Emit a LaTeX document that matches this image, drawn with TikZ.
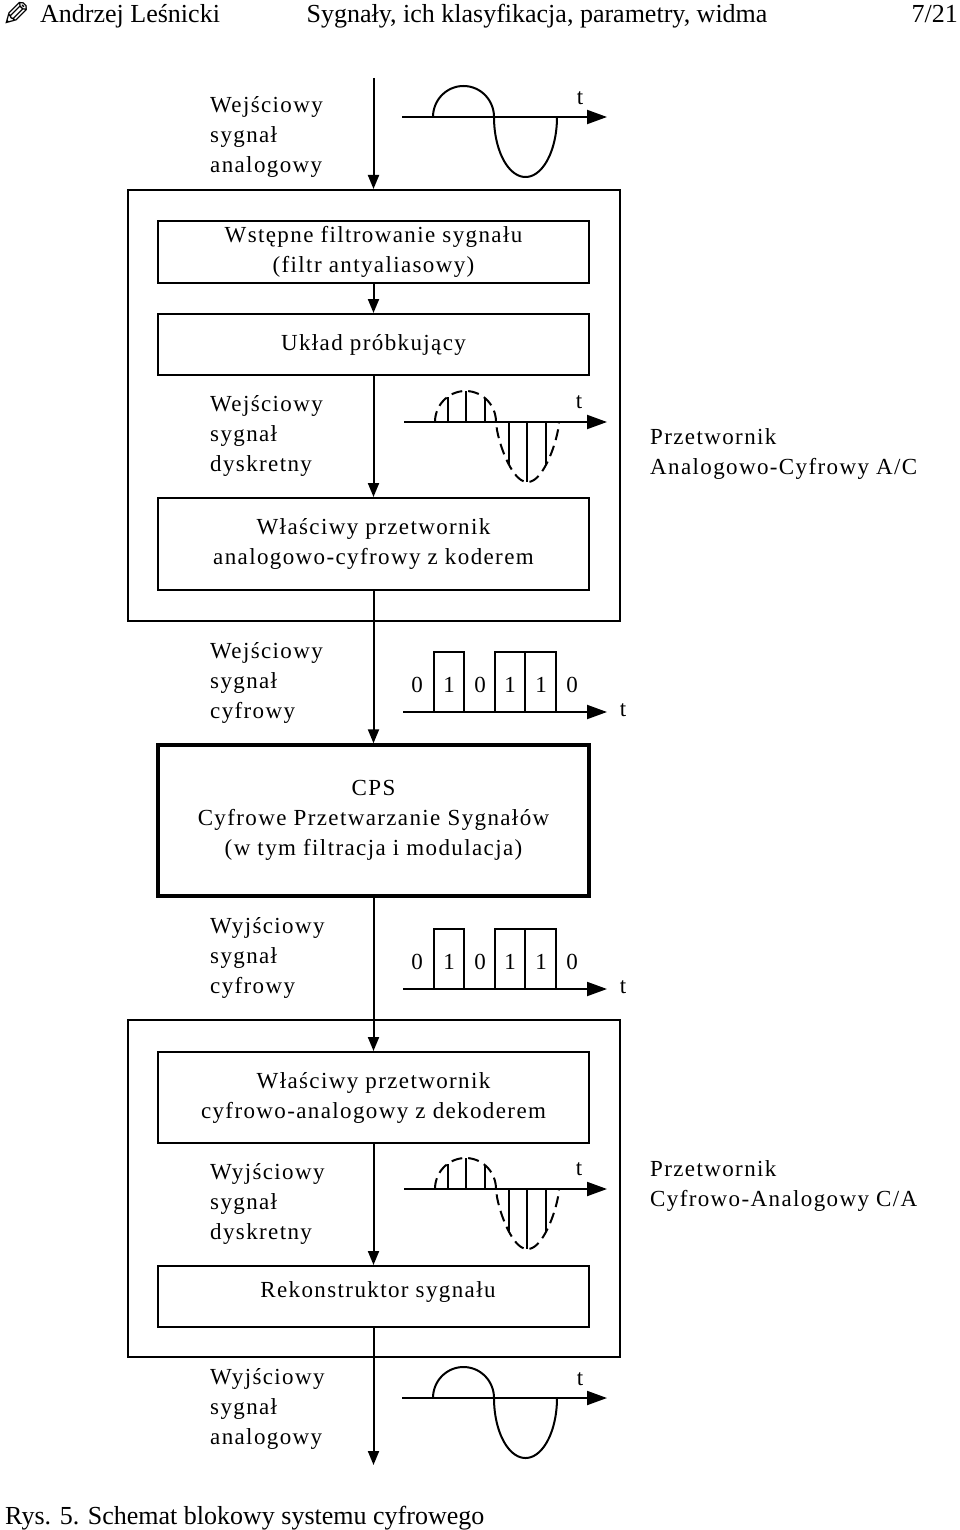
\documentclass[tikz,border=0pt]{standalone}
\usepackage{fontspec}
\setmainfont{Liberation Serif}
\newfontfamily\bodyfont[LetterSpace=6]{Liberation Serif}
\newfontfamily\symfont{DejaVu Sans}
\usetikzlibrary{arrows.meta}
\tikzset{
  ln/.style={line width=2pt},
  arr/.style={line width=2pt, -{Triangle[width=11pt,length=14pt]}},
  axarr/.style={line width=2pt, -{Triangle[width=14pt,length=20pt]}},
  dsh/.style={line width=2pt, dash pattern=on 11pt off 6pt},
  body/.style={font=\bodyfont\fontsize{23}{30}\selectfont, inner sep=0pt},
  lbl/.style={body, anchor=west, align=left},
  boxst/.style={body, draw, line width=2pt, minimum width=431pt, align=center},
  outerbox/.style={draw, line width=2pt, inner sep=0pt, minimum width=492pt},
  cpsbox/.style={boxst, line width=3.4pt},
  tlab/.style={font=\fontsize{23}{26}\selectfont, inner sep=0pt},
  hdr/.style={font=\fontsize{26}{30}\selectfont, inner sep=0pt},
  anawave/.pic={
    \draw[axarr] (-31,0) -- (174,0);
    \draw[ln] plot[variable=\t,domain=180:0,samples=61] ({30.5*(1+cos(\t))},{-31*sin(\t)})
      -- plot[variable=\t,domain=180:0,samples=61] ({61+31.5*(1+cos(\t))},{60*sin(\t)});
    \node[tlab] (-tl) at (147,-19) {t};
  },
  diswave/.pic={
    \draw[axarr] (-31,0) -- (172,0);
    \draw[dsh] plot[variable=\t,domain=180:0,samples=61] ({30.5*(1+cos(\t))},{-31*sin(\t)})
      -- plot[variable=\t,domain=0:180,samples=61] ({61+63*\t/180},{60*pow(max(sin(\t),0.0001),0.67)});
    \foreach \o in {13,31,50}{
      \pgfmathsetmacro\hh{31*sqrt(max(1-(\o/30.5-1)^2,0))}
      \draw[ln] (\o,0) -- (\o,-\hh);
    }
    \foreach \o in {74,92,111}{
      \pgfmathsetmacro\hh{60*pow(max(sin(180*(\o-61)/63),0.0001),0.67)}
      \draw[ln] (\o,0) -- (\o,\hh);
    }
    \node[tlab] (-tl) at (144,-20) {t};
  },
  digwave/.pic={
    \draw[axarr] (0,0) -- (204,0);
    \draw[ln] (31,0) -- (31,-60) -- (61,-60) -- (61,0);
    \draw[ln] (92,0) -- (92,-60) -- (153,-60) -- (153,0);
    \draw[ln] (122,0) -- (122,-60);
    \foreach \xx/\bb [count=\i] in {14/0,46/1,77/0,107/1,138/1,169/0}{
      \node[tlab] (-b\i) at (\xx,-27) {\bb};
    }
    \node[tlab] (-tl) at (220,-2) {t};
  }
}
\begin{document}
\begin{tikzpicture}[x=1pt,y=-1pt]
\useasboundingbox (0,0) rectangle (960,1530);
% header
\node[font=\symfont\fontsize{34}{34}\selectfont, xscale=-1, transform shape, inner sep=0pt] (pencil) at (16,14) {✎};
\node[hdr, anchor=base west] (author) at (40,22.5) {Andrzej Leśnicki};
\node[hdr, anchor=base] (title) at (537,22.5) {Sygnały, ich klasyfikacja, parametry, widma};
\node[hdr, anchor=base east] (page) at (958,22.5) {7/21};
% outer converter boxes
\node[outerbox, minimum height=431pt] (acbox) at (374,405.5) {};
\node[outerbox, minimum height=337pt] (cabox) at (374,1188.5) {};
% inner blocks
\node[boxst, minimum height=62pt] (box1) at (373.5,252) {Wstępne filtrowanie sygnału\\(filtr antyaliasowy)};
\node[boxst, minimum height=61pt] (box2) at (373.5,344.5) {Układ próbkujący};
\node[boxst, minimum height=92pt] (box3) at (373.5,544) {Właściwy przetwornik\\analogowo-cyfrowy z koderem};
\node[cpsbox, minimum height=151pt] (cps) at (373.5,820.5) {CPS\\Cyfrowe Przetwarzanie Sygnałów\\(w tym filtracja i modulacja)};
\node[boxst, minimum height=91pt] (box4) at (373.5,1097.5) {Właściwy przetwornik\\cyfrowo-analogowy z dekoderem};
\node[boxst, minimum height=61pt] (box5) at (373.5,1296.5) {};
\node[body] (box5t) at (378,1292) {Rekonstruktor sygnału};
% connectors
\coordinate (topstart) at (373.5,78);
\coordinate (endpt) at (373.5,1465);
\draw[arr] (topstart) -- (topstart |- acbox.north);
\draw[arr] (box1.south) -- (box2.north);
\draw[arr] (box2.south) -- (box3.north);
\draw[arr] (box3.south) -- (cps.north);
\draw[arr] (cps.south) -- (box4.north);
\draw[arr] (box4.south) -- (box5.north);
\draw[arr] (box5.south) -- (endpt);
% side labels
\node[lbl] (l1) at (210,137) {Wejściowy\\sygnał\\analogowy};
\node[lbl] (l2) at (210,436) {Wejściowy\\sygnał\\dyskretny};
\node[lbl] (l3) at (210,683) {Wejściowy\\sygnał\\cyfrowy};
\node[lbl] (l4) at (210,958) {Wyjściowy\\sygnał\\cyfrowy};
\node[lbl] (l5) at (210,1204) {Wyjściowy\\sygnał\\dyskretny};
\node[lbl] (l6) at (210,1409) {Wyjściowy\\sygnał\\analogowy};
\node[lbl] (rac) at (650,454) {Przetwornik\\Analogowo-Cyfrowy A/C};
\node[lbl] (rca) at (650,1186) {Przetwornik\\Cyfrowo-Analogowy C/A};
% waveforms
\pic (w1) at (433,117) {anawave};
\pic (w2) at (435,422) {diswave};
\pic (w3) at (403,712) {digwave};
\pic (w4) at (403,989) {digwave};
\pic (w5) at (435,1189) {diswave};
\pic (w6) at (433,1398) {anawave};
% footer
\node[hdr, anchor=base west] (caption) at (5,1524) {Rys. 5. Schemat blokowy systemu cyfrowego};
\end{tikzpicture}
\end{document}
